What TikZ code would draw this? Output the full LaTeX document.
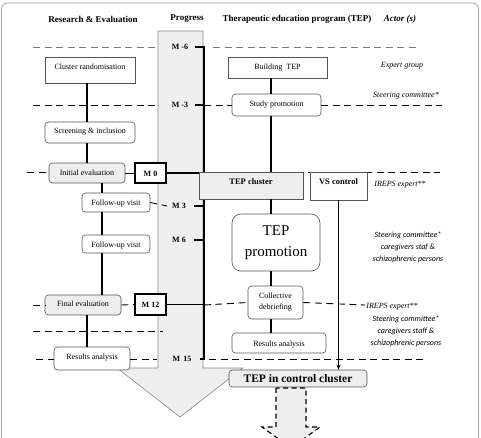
\documentclass[tikz,border=0pt]{standalone}
\usepackage{fontspec}
\setmainfont{Liberation Serif}
\newfontfamily\carl{Carlito}
\usetikzlibrary{arrows.meta}
\definecolor{boxgray}{HTML}{EEEEEE}
\definecolor{edgegray}{HTML}{555555}
\definecolor{progfill}{HTML}{EFEFEF}
\definecolor{progedge}{HTML}{888888}
\definecolor{framegray}{HTML}{A0A0A0}
\begin{document}
\begin{tikzpicture}[x=1pt,y=-1pt,
  box/.style={draw=edgegray, line width=0.6pt, fill=white, inner sep=0pt,
    font=\fontsize{8}{9.5}\selectfont, align=center},
  th/.style={text height=6pt, text depth=#1},
  th/.default=0pt,
  rbox/.style={box, rounded corners=3.5pt},
  gfill/.style={fill=boxgray},
  mbox/.style={draw=black, line width=1.6pt, fill=white, inner sep=0pt,
    font=\bfseries\fontsize{8}{9}\selectfont, text height=6pt, text depth=0pt},
  mlabel/.style={font=\bfseries\fontsize{8}{9}\selectfont, inner sep=1pt},
  head/.style={font=\bfseries\fontsize{9}{11}\selectfont},
  actor/.style={font=\itshape\fontsize{8}{10}\selectfont, align=center},
  actorsans/.style={font=\carl\itshape\fontsize{8}{11.8}\selectfont, align=center},
  guide/.style={black, line width=0.9pt, dash pattern=on 7pt off 4.5pt},
  gguide/.style={guide, draw=progedge!90!black},
  spine/.style={black, line width=1.1pt},
  tline/.style={black, line width=1.7pt, line join=miter},
]
\useasboundingbox (0,0) rectangle (481,437);
\clip (0,0) rectangle (481,437);
% outer frame
\draw[framegray, line width=0.8pt, rounded corners=6pt] (1.5,3) rectangle (478.5,480);

% progress column with arrow head
\path[draw=progedge, fill=progfill, line width=0.6pt]
  (158,368) -- (158,31) -- (203,31) -- (203,368) -- (243,368) -- (180,417) -- (117,368) -- cycle;

% headers
\node[head] (hre) at (93,19) {Research \& Evaluation};
\node[head] (hpr) at (187,19) {Progress};
\node[head] (htep) at (297,19) {Therapeutic education program (TEP)};
\node[head, font=\bfseries\itshape\fontsize{9}{11}\selectfont] (hact) at (400,19) {Actor (s)};

% guide dashed lines (coordinate based)
\draw[gguide] (33,47) -- (158,47);
\draw[gguide] (213,47) -- (418,47);
\draw[guide] (33,105) -- (158,105);
\draw[guide] (204,172) -- (440,172);
\draw[guide] (33,331) -- (163,331);
\draw[guide] (209,359) -- (423,359);

% timeline
\coordinate (tl) at (204,0);
\coordinate (sl) at (87,0);
\coordinate (sl2) at (102,0);
\coordinate (sm) at (271,0);
\draw[tline] (195,47) -- (204,47) -- (204,359) -- (200,359);
\draw[tline] (195,105) -- (204,105);
\draw[tline] (194,206) -- (204,206);
\draw[tline] (194,240) -- (204,240);

% progress labels
\node[mlabel] (mneg6) at (180,47) {M -6};
\node[mlabel] (mneg3) at (180,105) {M -3};
\node[mlabel] (m3) at (179,206) {M 3};
\node[mlabel] (m6) at (179,240) {M 6};
\node[mlabel] (m15) at (182,359) {M\, 15};

% research & evaluation column
\node[box, th=8pt, minimum width=90pt, minimum height=26pt] (crand) at (90,70) {Cluster randomisation};
\node[rbox, th=5pt, minimum width=90pt, minimum height=21pt] (screen) at (90,132.5) {Screening \& inclusion};
\node[rbox, gfill, th=2pt, minimum width=76pt, minimum height=20pt] (initev) at (87,173) {Initial evaluation};
\node[mbox, minimum width=31pt, minimum height=20pt] (m0) at (150.5,173) {M 0};
\node[rbox, th=1pt, minimum width=68pt, minimum height=19pt] (fu1) at (116,202.5) {Follow-up visit};
\node[rbox, th, minimum width=68pt, minimum height=18pt] (fu2) at (116,244) {Follow-up visit};
\node[rbox, gfill, th=4pt, minimum width=76pt, minimum height=20pt] (finev) at (83,305) {Final evaluation};
\node[mbox, minimum width=31pt, minimum height=21pt] (m12) at (150.5,304.5) {M 12};
\node[rbox, th=5pt, minimum width=76pt, minimum height=23pt] (resL) at (92,358.5) {Results analysis};

% TEP column
\node[box, th=3pt, minimum width=99pt, minimum height=21pt] (build) at (277.5,67.5) {Building\ \ TEP};
\node[rbox, th=4pt, minimum width=89pt, minimum height=22pt] (study) at (276.5,105) {Study promotion};
\node[box, gfill, th=9pt, minimum width=104pt, minimum height=27pt,
  font=\bfseries\fontsize{8.5}{10}\selectfont] (tepc) at (251,185.5) {TEP cluster};
\node[box, th=10pt, minimum width=57pt, minimum height=28pt,
  font=\bfseries\fontsize{8.5}{10}\selectfont] (vsc) at (338.5,186) {VS control};
\node[box, rounded corners=9pt, minimum width=88pt, minimum height=57pt,
  font=\fontsize{15}{21}\selectfont] (tepp) at (276,242.5) {TEP\\promotion};
\node[rbox, minimum width=55pt, minimum height=33pt,
  font=\fontsize{8}{11}\selectfont] (colldeb) at (275.5,302.5) {Collective\\debriefing};
\node[rbox, th, minimum width=94pt, minimum height=20pt] (resM) at (279,343) {Results analysis};
\node[rbox, gfill, minimum width=138pt, minimum height=17pt, text height=8pt, text depth=1pt,
  font=\bfseries\fontsize{11.5}{13}\selectfont] (tepcc) at (298,378.5) {TEP in control cluster};

% actors
\node[actor] (a1) at (402,66) {Expert group};
\node[actor] (a2) at (406,96) {Steering committee*};
\node[actor] (a3) at (400,185) {IREPS expert**};
\node[actorsans] (a4) at (408,247.5) {Steering committee*\\caregivers staf \&\\schizophrenic persons};
\node[actor] (a5) at (392,307) {IREPS expert**};
\node[actorsans] (a6) at (406,331) {Steering committee*\\caregivers staff \&\\schizophrenic persons};

% guide dashed lines touching nodes
\draw[guide] (204,105) -- (study.west);
\draw[guide] (study.east) -- (442,105);
\draw[guide] (27,172) -- (27,172 -| initev.west);
\draw[guide] (fu1.east) -- (167,206);
\draw[guide] (33,305) -- (finev.west);
\draw[guide] (finev.east) -- (m12.west);
\draw[guide] (204,305) -- (colldeb.west);
\draw[guide] (colldeb.east) -- (365,305);
\draw[guide] (36,359) -- (36,359 -| resL.west);
\draw[guide] (130,359) -- (157,359);

% connectors
\draw[spine] (crand.south -| sl) -- (screen.north -| sl);
\draw[spine] (screen.south -| sl) -- (initev.north -| sl);
\draw[spine] (initev.south -| sl2) -- (fu1.north -| sl2);
\draw[spine] (fu1.south -| sl2) -- (fu2.north -| sl2);
\draw[spine] (fu2.south -| sl2) -- (finev.north -| sl2);
\draw[spine] (finev.south -| sl) -- (resL.north -| sl);
\draw[black, line width=0.6pt] (initev.east) -- (m0.west);
\draw[spine] (build.south -| sm) -- (study.north -| sm);
\draw[spine] (study.south -| sm) -- (tepc.north -| sm);
\draw[spine] (tepc.south -| sm) -- (tepp.north -| sm);
\draw[spine] (tepp.south -| sm) -- (colldeb.north -| sm);
\draw[spine] (colldeb.south -| sm) -- (resM.north -| sm);
\draw[spine, -{Stealth[length=5pt,width=4pt]}] (vsc.south) -- (vsc.south |- tepcc.north);
\draw[tline] (m0.east) -- (m0.east -| tepc.west);
\draw[tline] (m12.east) -- (m12.east -| tl);

% dashed block arrow below
\draw[black, line width=1.1pt, dash pattern=on 5pt off 3.5pt, fill=boxgray]
  (276,388) -- (276,427) -- (262,427) -- (291,448) -- (320,427) -- (306,427) -- (306,388) -- cycle;
\end{tikzpicture}
\end{document}
